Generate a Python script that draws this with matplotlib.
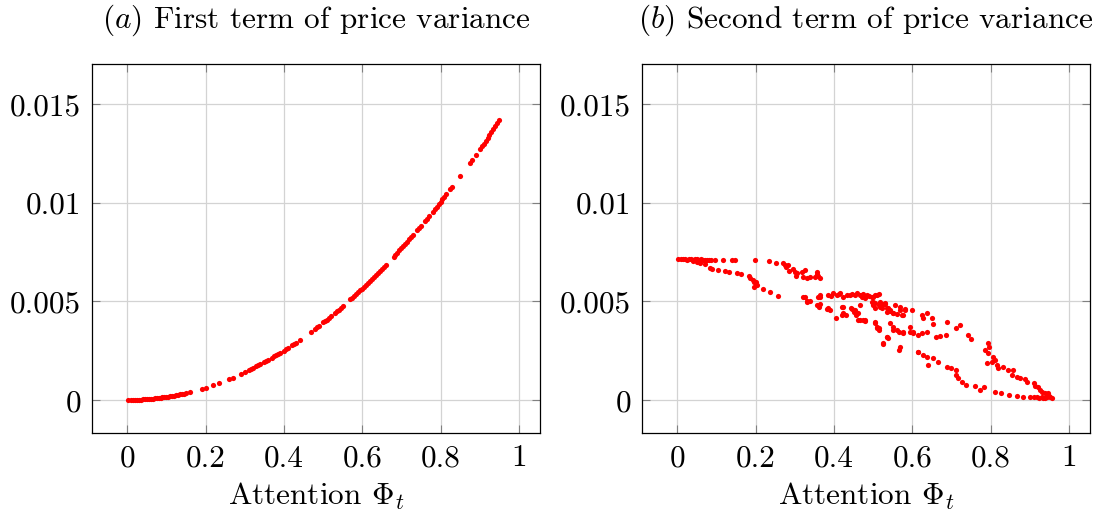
import matplotlib
matplotlib.use("Agg")
import matplotlib.pyplot as plt

plt.rcParams['font.family'] = 'serif'
plt.rcParams['font.serif'] = ['cmr10', 'DejaVu Serif']
plt.rcParams['mathtext.fontset'] = 'cm'
plt.rcParams['axes.unicode_minus'] = False

# (a) first term of price variance
attn_a = [0.003, 0.01, 0.015, 0.02, 0.025, 0.03, 0.035, 0.04, 0.045, 0.05,
          0.055, 0.06, 0.065, 0.07, 0.075, 0.08, 0.085, 0.09, 0.095, 0.10,
          0.105, 0.11, 0.115, 0.12, 0.125, 0.13, 0.135, 0.14, 0.145, 0.15,
          0.16, 0.19, 0.20, 0.22, 0.235, 0.26, 0.27, 0.29, 0.30, 0.31, 0.315,
          0.32, 0.33, 0.335, 0.34, 0.35, 0.355, 0.36, 0.37, 0.375, 0.38,
          0.385, 0.39, 0.40, 0.405, 0.41, 0.42, 0.425, 0.43, 0.44, 0.47,
          0.48, 0.485, 0.49, 0.50, 0.505, 0.51, 0.515, 0.52, 0.53, 0.535,
          0.54, 0.545, 0.55, 0.57, 0.575, 0.58, 0.585, 0.59, 0.595, 0.60,
          0.605, 0.61, 0.615, 0.62, 0.625, 0.63, 0.635, 0.64, 0.645, 0.65,
          0.655, 0.66, 0.68, 0.685, 0.69, 0.695, 0.70, 0.705, 0.71, 0.715,
          0.72, 0.725, 0.73, 0.74, 0.745, 0.75, 0.76, 0.765, 0.77, 0.78,
          0.785, 0.79, 0.795, 0.80, 0.805, 0.81, 0.815, 0.825, 0.83, 0.85,
          0.875, 0.88, 0.89, 0.90, 0.905, 0.91, 0.915, 0.92, 0.925, 0.93,
          0.935, 0.94, 0.945, 0.95]
term1 = [0.00000, 0.00000, 0.00000, 0.00001, 0.00001, 0.00001, 0.00002,
         0.00003, 0.00003, 0.00004, 0.00005, 0.00006, 0.00007, 0.00008,
         0.00009, 0.00010, 0.00011, 0.00013, 0.00014, 0.00016, 0.00017,
         0.00019, 0.00021, 0.00023, 0.00025, 0.00027, 0.00029, 0.00031,
         0.00033, 0.00035, 0.00040, 0.00057, 0.00063, 0.00076, 0.00087,
         0.00106, 0.00114, 0.00132, 0.00141, 0.00151, 0.00156, 0.00161,
         0.00171, 0.00176, 0.00181, 0.00192, 0.00198, 0.00203, 0.00215,
         0.00221, 0.00227, 0.00233, 0.00239, 0.00251, 0.00258, 0.00264,
         0.00277, 0.00284, 0.00290, 0.00304, 0.00347, 0.00362, 0.00369,
         0.00377, 0.00393, 0.00400, 0.00408, 0.00416, 0.00425, 0.00441,
         0.00449, 0.00458, 0.00466, 0.00475, 0.00510, 0.00519, 0.00528,
         0.00537, 0.00547, 0.00556, 0.00565, 0.00575, 0.00584, 0.00594,
         0.00604, 0.00613, 0.00623, 0.00633, 0.00643, 0.00653, 0.00663,
         0.00674, 0.00684, 0.00726, 0.00737, 0.00747, 0.00758, 0.00769,
         0.00780, 0.00791, 0.00803, 0.00814, 0.00825, 0.00837, 0.00860,
         0.00871, 0.00883, 0.00907, 0.00919, 0.00931, 0.00955, 0.00967,
         0.00980, 0.00992, 0.01005, 0.01017, 0.01030, 0.01043, 0.01069,
         0.01082, 0.01134, 0.01202, 0.01216, 0.01244, 0.01272, 0.01286,
         0.01300, 0.01314, 0.01329, 0.01343, 0.01358, 0.01372, 0.01387,
         0.01402, 0.01417]

# (b) second term of price variance
attn_b = [0.003, 0.01, 0.015, 0.02, 0.025, 0.03, 0.035, 0.04, 0.045, 0.05,
          0.055, 0.06, 0.065, 0.07, 0.075, 0.08, 0.085, 0.097, 0.117, 0.14,
          0.148, 0.199, 0.235, 0.253,
          0.04, 0.05, 0.059, 0.071, 0.084, 0.088, 0.105, 0.122, 0.132, 0.152,
          0.162, 0.184, 0.186, 0.193, 0.196, 0.20, 0.195, 0.203, 0.219,
          0.237, 0.258,
          0.270, 0.274, 0.278, 0.282, 0.285, 0.296, 0.30, 0.304, 0.305,
          0.318, 0.326, 0.322, 0.331, 0.339, 0.356, 0.36, 0.352, 0.365,
          0.357,
          0.322, 0.331, 0.339, 0.356, 0.362, 0.364, 0.365, 0.382, 0.389,
          0.405, 0.422, 0.424, 0.43, 0.446, 0.454, 0.462, 0.467, 0.479,
          0.327, 0.331, 0.36, 0.365, 0.386,
          0.386, 0.399, 0.407, 0.416, 0.424, 0.433, 0.446, 0.454, 0.458,
          0.467, 0.471, 0.484, 0.497, 0.505, 0.514, 0.392, 0.412, 0.44,
          0.475, 0.49,
          0.497, 0.501, 0.505, 0.509, 0.514, 0.526, 0.535, 0.518, 0.531,
          0.539,
          0.420, 0.424, 0.420, 0.444, 0.452, 0.456, 0.461, 0.467, 0.474,
          0.501, 0.505, 0.514, 0.505, 0.509, 0.514, 0.526, 0.535, 0.544,
          0.552, 0.56, 0.569, 0.582, 0.577, 0.544, 0.552, 0.56, 0.577,
          0.594, 0.603, 0.616, 0.535, 0.526, 0.569, 0.565, 0.616,
          0.471, 0.48, 0.501, 0.509, 0.505, 0.518, 0.522, 0.531, 0.535,
          0.543, 0.552, 0.556, 0.569, 0.573, 0.582, 0.599, 0.624, 0.637,
          0.628, 0.65, 0.652, 0.69, 0.722, 0.713, 0.743, 0.749, 0.687,
          0.662, 0.67, 0.637, 0.624, 0.603, 0.594, 0.577, 0.565, 0.552,
          0.539, 0.48,
          0.616, 0.628, 0.637, 0.641, 0.654, 0.667, 0.688, 0.70, 0.713,
          0.713, 0.717, 0.726, 0.737, 0.76, 0.773, 0.783, 0.811, 0.828,
          0.848, 0.867, 0.884, 0.901, 0.918, 0.931, 0.944, 0.952, 0.948,
          0.956, 0.935, 0.94, 0.95, 0.925, 0.91,
          0.794, 0.797, 0.786, 0.794, 0.807, 0.811, 0.803, 0.79, 0.816,
          0.82, 0.832, 0.845, 0.858, 0.854, 0.867, 0.875, 0.888, 0.893,
          0.91, 0.914, 0.922, 0.927, 0.931, 0.94, 0.944]
term2 = [0.00713, 0.00714, 0.00713, 0.00715, 0.00712, 0.00714, 0.00713,
         0.00712, 0.00714, 0.00713, 0.00712, 0.00713, 0.00711, 0.00712,
         0.00711, 0.00710, 0.00711, 0.00710, 0.00710, 0.00709, 0.00708,
         0.00710, 0.00704, 0.00696,
         0.00705, 0.00700, 0.00693, 0.00688, 0.00671, 0.00664, 0.00659,
         0.00654, 0.00650, 0.00645, 0.00638, 0.00630, 0.00617, 0.00610,
         0.00600, 0.00600, 0.00574, 0.00584, 0.00561, 0.00546, 0.00529,
         0.00694, 0.00683, 0.00676, 0.00683, 0.00654, 0.00666, 0.00650,
         0.00630, 0.00642, 0.00650, 0.00659, 0.00625, 0.00617, 0.00625,
         0.00650, 0.00630, 0.00625, 0.00617, 0.00637,
         0.00520, 0.00504, 0.00500, 0.00481, 0.00473, 0.00486, 0.00521,
         0.00460, 0.00457, 0.00414, 0.00473, 0.00436, 0.00430, 0.00460,
         0.00457, 0.00440, 0.00405, 0.00402,
         0.00524, 0.00498, 0.00524, 0.00532, 0.00464,
         0.00532, 0.00540, 0.00532, 0.00540, 0.00524, 0.00532, 0.00537,
         0.00532, 0.00544, 0.00532, 0.00524, 0.00532, 0.00524, 0.00532,
         0.00537, 0.00528, 0.00536, 0.00534, 0.00538, 0.00528,
         0.00498, 0.00481, 0.00397, 0.00372, 0.00363, 0.00287, 0.00321,
         0.00473, 0.00489, 0.00465,
         0.00473, 0.00439, 0.00430, 0.00464, 0.00448, 0.00430, 0.00405,
         0.00481, 0.00405, 0.00498, 0.00464, 0.00481, 0.00389, 0.00363,
         0.00355, 0.00489, 0.00464, 0.00450, 0.00440, 0.00435, 0.00458,
         0.00462, 0.00432, 0.00389, 0.00372, 0.00355, 0.00338, 0.00372,
         0.00346, 0.00329, 0.00321, 0.00282, 0.00270, 0.00253, 0.00245,
         0.00532, 0.00515, 0.00524, 0.00532, 0.00490, 0.00498, 0.00465,
         0.00490, 0.00448, 0.00456, 0.00439, 0.00481, 0.00473, 0.00430,
         0.00456, 0.00456, 0.00431, 0.00439, 0.00414, 0.00414, 0.00385,
         0.00397, 0.00381, 0.00363, 0.00329, 0.00308, 0.00329, 0.00321,
         0.00325, 0.00346, 0.00338, 0.00342, 0.00346, 0.00346, 0.00346,
         0.00355, 0.00313, 0.00405,
         0.00245, 0.00228, 0.00220, 0.00177, 0.00211, 0.00194, 0.00169,
         0.00160, 0.00152, 0.00127, 0.00110, 0.00093, 0.00076, 0.00073,
         0.00051, 0.00068, 0.00042, 0.00034, 0.00025, 0.00022, 0.00017,
         0.00014, 0.00014, 0.00014, 0.00017, 0.00014, 0.00034, 0.00008,
         0.00010, 0.00012, 0.00020, 0.00012, 0.00016,
         0.00287, 0.00267, 0.00253, 0.00237, 0.00220, 0.00203, 0.00194,
         0.00190, 0.00177, 0.00160, 0.00169, 0.00152, 0.00152, 0.00127,
         0.00118, 0.00110, 0.00105, 0.00093, 0.00084, 0.00073, 0.00068,
         0.00051, 0.00042, 0.00034, 0.00025]

x_ticks = [0, 0.2, 0.4, 0.6, 0.8, 1]
x_ticklabels = ['0', '0.2', '0.4', '0.6', '0.8', '1']
y_ticks = [0, 0.005, 0.01, 0.015]
y_ticklabels = ['0', '0.005', '0.01', '0.015']

titles = [r'$(a)$ First term of price variance',
          r'$(b)$ Second term of price variance']

fs = 22.5
fig = plt.figure(figsize=(10.99, 5.13), dpi=100)
ax1 = fig.add_axes([92 / 1099, 80 / 513, 448 / 1099, 369 / 513])
ax2 = fig.add_axes([642 / 1099, 80 / 513, 448 / 1099, 369 / 513])

for ax, xs, ys, title in [(ax1, attn_a, term1, titles[0]),
                          (ax2, attn_b, term2, titles[1])]:
    ax.scatter(xs, ys, s=14, color='#ff0000', linewidths=0, zorder=3)
    ax.set_xlim(-0.09, 1.054)
    ax.set_ylim(-0.00167, 0.01703)
    ax.set_xticks(x_ticks)
    ax.set_xticklabels(x_ticklabels)
    ax.set_yticks(y_ticks)
    ax.set_yticklabels(y_ticklabels)
    ax.grid(True, color='#d3d3d3', linewidth=0.9)
    ax.set_axisbelow(True)
    ax.tick_params(direction='in', length=6, width=0.8, color='#808080',
                   top=True, right=True, labelsize=fs, pad=8)
    for sp in ax.spines.values():
        sp.set_linewidth(0.9)
    ax.set_xlabel(r'Attention $\Phi_t$', fontsize=fs, labelpad=6)
    ax.set_title(title, fontsize=fs, pad=26)

fig.savefig('out.png', dpi=100)
